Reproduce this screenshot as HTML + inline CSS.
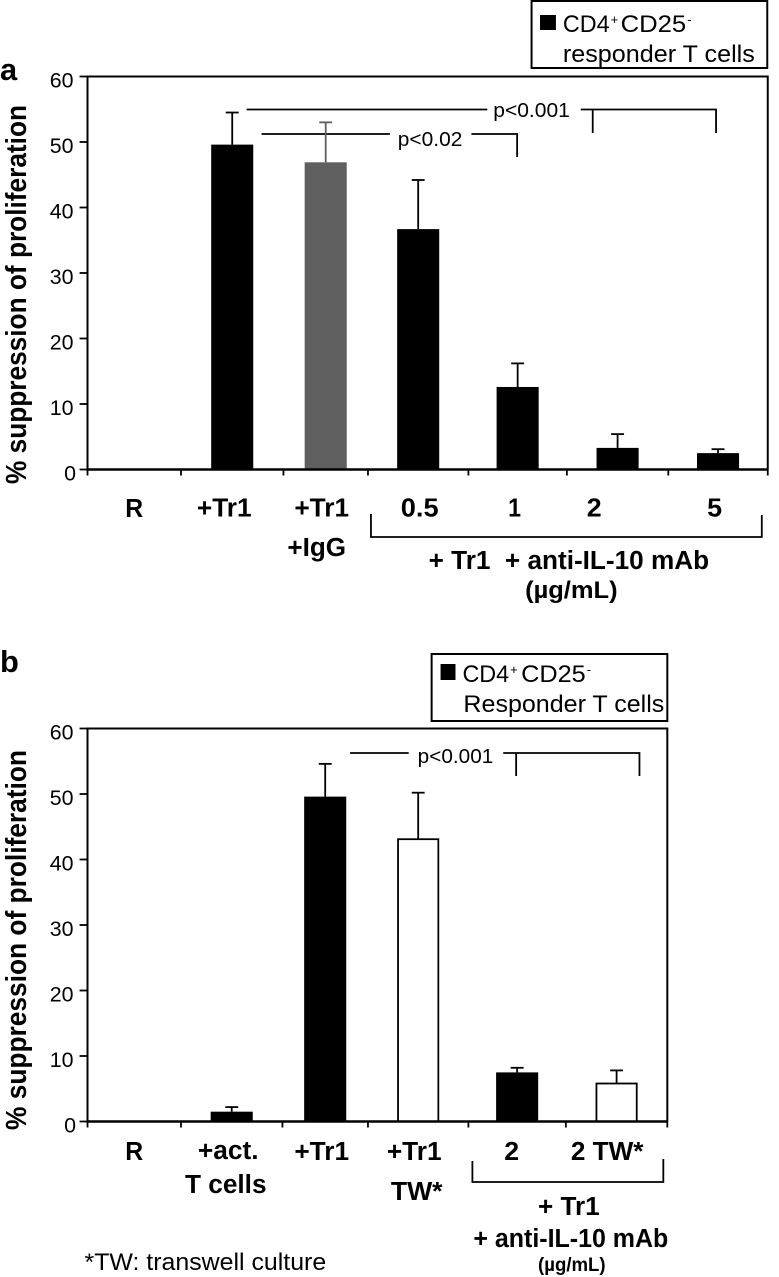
<!DOCTYPE html>
<html>
<head>
<meta charset="utf-8">
<title>Suppression of proliferation</title>
<style>
html,body{margin:0;padding:0;background:#fff;}
svg{display:block;}
text{font-family:"Liberation Sans",sans-serif;fill:#000;}
.b{font-weight:bold;font-size:26px;}
.l{font-size:24px;}
.p{font-size:20px;}
.t{font-size:21.5px;}
.ttl{font-weight:bold;font-size:28.5px;}
.pan{font-weight:bold;font-size:31px;}
.br{fill:none;stroke:#000;stroke-width:1.8;}
</style>
</head>
<body>
<svg id="fig" width="779" height="1277" viewBox="0 0 779 1277" xmlns="http://www.w3.org/2000/svg">
  <rect x="0" y="0" width="779" height="1277" fill="#fff"/>
  <g transform="scale(0.9945,1)">

  <!-- Panel a static -->
  <text class="pan" x="0" y="80">a</text>
  <text class="ttl" transform="translate(26,484) rotate(-90)" textLength="379" lengthAdjust="spacingAndGlyphs">% suppression of proliferation</text>

  <g>
    <rect x="534.5" y="1" width="237" height="67" fill="#fff" stroke="#000" stroke-width="2"/>
    <rect x="543" y="15" width="16" height="15" fill="#000"/>
    <text class="l" x="566" y="32" textLength="47" lengthAdjust="spacingAndGlyphs">CD4</text>
    <text x="614" y="24" font-size="13">+</text>
    <text class="l" x="624" y="32" textLength="66" lengthAdjust="spacingAndGlyphs">CD25</text>
    <text x="691" y="24" font-size="13">-</text>
    <text class="l" x="566" y="62" textLength="193" lengthAdjust="spacingAndGlyphs">responder T cells</text>
  </g>

  <g>
    <path class="br" d="M248 109.5H490M584 109.5H720V133M596 109.5V133"/>
    <text class="p" x="496" y="117" textLength="77" lengthAdjust="spacingAndGlyphs">p&lt;0.001</text>
    <path class="br" d="M263 134H392M474 134H520V157"/>
    <text class="p" x="400" y="146" textLength="65" lengthAdjust="spacingAndGlyphs">p&lt;0.02</text>
  </g>

  <g>
    <text class="b" x="126" y="517" textLength="18" lengthAdjust="spacingAndGlyphs">R</text>
    <text class="b" x="198" y="516.5" textLength="55" lengthAdjust="spacingAndGlyphs">+Tr1</text>
    <text class="b" x="296" y="516.5" textLength="55" lengthAdjust="spacingAndGlyphs">+Tr1</text>
    <text class="b" x="289" y="556" textLength="59" lengthAdjust="spacingAndGlyphs">+IgG</text>
    <text class="b" x="403" y="516.5" textLength="38" lengthAdjust="spacingAndGlyphs">0.5</text>
    <text class="b" x="511" y="516.5" textLength="13" lengthAdjust="spacingAndGlyphs">1</text>
    <text class="b" x="590" y="516.5" textLength="15" lengthAdjust="spacingAndGlyphs">2</text>
    <text class="b" x="711" y="516.5" textLength="15" lengthAdjust="spacingAndGlyphs">5</text>
    <path class="br" d="M373 514V537H766V515"/>
    <text class="b" x="431" y="569" textLength="282" lengthAdjust="spacingAndGlyphs" style="white-space:pre">+ Tr1  + anti-IL-10 mAb</text>
    <text class="b" x="528" y="598" style="font-size:24px" textLength="93" lengthAdjust="spacingAndGlyphs">(µg/mL)</text>
  </g>

  <!-- Panel b static -->
  <text class="pan" x="0" y="672">b</text>
  <text class="ttl" transform="translate(26,1130) rotate(-90)" textLength="380" lengthAdjust="spacingAndGlyphs">% suppression of proliferation</text>

  <g>
    <rect x="434" y="654" width="237" height="67" fill="#fff" stroke="#000" stroke-width="2"/>
    <rect x="443" y="664" width="15" height="16" fill="#000"/>
    <text class="l" x="465" y="682" textLength="47" lengthAdjust="spacingAndGlyphs">CD4</text>
    <text x="513" y="674" font-size="13">+</text>
    <text class="l" x="524" y="682" textLength="65" lengthAdjust="spacingAndGlyphs">CD25</text>
    <text x="590" y="674" font-size="13">-</text>
    <text class="l" x="466" y="712" textLength="202" lengthAdjust="spacingAndGlyphs">Responder T cells</text>
  </g>

  <g>
    <path class="br" d="M352 753H411M506 753H643V776M519 753V776"/>
    <text class="p" x="420" y="763" textLength="76" lengthAdjust="spacingAndGlyphs">p&lt;0.001</text>
  </g>

  <g>
    <text class="b" x="126" y="1160" textLength="18" lengthAdjust="spacingAndGlyphs">R</text>
    <text class="b" x="199" y="1159" textLength="61" lengthAdjust="spacingAndGlyphs">+act.</text>
    <text class="b" x="186" y="1193" textLength="82" lengthAdjust="spacingAndGlyphs">T cells</text>
    <text class="b" x="296" y="1160" textLength="55" lengthAdjust="spacingAndGlyphs">+Tr1</text>
    <text class="b" x="389" y="1160" textLength="55" lengthAdjust="spacingAndGlyphs">+Tr1</text>
    <text class="b" x="393" y="1200" textLength="52" lengthAdjust="spacingAndGlyphs">TW*</text>
    <text class="b" x="507" y="1160" textLength="15" lengthAdjust="spacingAndGlyphs">2</text>
    <text class="b" x="574" y="1160" textLength="73" lengthAdjust="spacingAndGlyphs">2 TW*</text>
    <path class="br" d="M475 1161V1182H667V1159"/>
    <text class="b" x="541" y="1215" textLength="62" lengthAdjust="spacingAndGlyphs">+ Tr1</text>
    <text class="b" x="476" y="1247" textLength="196" lengthAdjust="spacingAndGlyphs">+ anti-IL-10 mAb</text>
    <text class="b" x="541" y="1271" style="font-size:19px" textLength="68" lengthAdjust="spacingAndGlyphs">(µg/mL)</text>
  </g>
  <text class="l" x="85" y="1270" textLength="243" lengthAdjust="spacingAndGlyphs">*TW: transwell culture</text>

  <g id="plot-a"></g>
  <g id="plot-b"></g>
  </g>
</svg>

<script>
// Shared axis ticks
const yTickValues = [0, 10, 20, 30, 40, 50, 60];

// Panel a data
const categoriesA = ['R', '+Tr1', '+Tr1 +IgG', '0.5', '1', '2', '5'];
const valuesA = [0, 49.6, 46.9, 36.7, 12.6, 3.3, 2.5];
const errorsA = [0, 4.9, 6.1, 7.5, 3.6, 2.1, 0.6];
const fillsA = ['black', 'black', 'gray', 'black', 'black', 'black', 'black'];

// Panel b data
const categoriesB = ['R', '+act. T cells', '+Tr1', '+Tr1 TW*', '2', '2 TW*'];
const valuesB = [0, 1.5, 49.6, 43.1, 7.5, 5.8];
const errorsB = [0, 0.7, 5.0, 7.1, 0.7, 2.0];
const fillsB = ['black', 'black', 'black', 'white', 'black', 'white'];

const NS = 'http://www.w3.org/2000/svg';

function make(tag, attrs, parent) {
  const el = document.createElementNS(NS, tag);
  for (const k in attrs) el.setAttribute(k, attrs[k]);
  parent.appendChild(el);
  return el;
}

function drawPanel(group, prefix, frame, categories, values, errors, fills) {
  const yScale = v => frame.y0 + (frame.y60 - frame.y0) * v / 60;
  const edges = frame.edges;
  const xCenter = i => (edges[i] + edges[i + 1]) / 2;
  const barW = 42.3;

  // frame
  const box = make('path', {d: 'M' + edges[0] + ' ' + frame.y0 + 'V' + frame.y60 + 'H' + edges[edges.length - 1] + 'V' + frame.y0, fill: 'none', stroke: '#000', 'stroke-width': 2}, group);
  
  

  // y ticks + labels
  yTickValues.forEach(v => {
    const y = yScale(v);
    const tick = make('line', {x1: edges[0] - 8, x2: edges[0], y1: y, y2: y, stroke: '#000', 'stroke-width': 1.8}, group);
    
    
    const label = make('text', {x: v === 0 ? 76.5 : 74, y: y + 11, 'text-anchor': 'end', class: 't'}, group);
    
    
    label.textContent = String(v);
  });

  // bars + error bars
  categories.forEach((c, i) => {
    const cx = xCenter(i);
    const top = yScale(values[i]);
    const errTop = yScale(values[i] + errors[i]);
    const isWhite = fills[i] === 'white';
    const color = fills[i] === 'gray' ? '#5f5f5f' : '#000';
    if (values[i] <= 0) return;
    const err = make('line', {x1: cx, x2: cx, y1: top, y2: errTop, stroke: color, 'stroke-width': 1.8}, group);
    
    
    const cap = make('line', {x1: cx - 6.5, x2: cx + 6.5, y1: errTop, y2: errTop, stroke: color, 'stroke-width': 1.8}, group);
    
    
    const inset = isWhite ? 0.9 : 0;
    const bar = make('rect', {
      x: cx - barW / 2 + inset,
      y: top,
      width: barW - 2 * inset,
      height: frame.y0 - top,
      fill: isWhite ? '#fff' : color,
      stroke: isWhite ? '#000' : 'none',
      'stroke-width': isWhite ? 1.8 : 0
    }, group);
    
    
    const title = make('title', {}, bar);
    title.textContent = c;
  });

  // baseline + x ticks
  const base = make('line', {x1: edges[0], x2: edges[edges.length - 1], y1: frame.y0, y2: frame.y0, stroke: '#000', 'stroke-width': 2.4}, group);
  
  
  edges.forEach(x => {
    const t = make('line', {x1: x, x2: x, y1: frame.y0, y2: frame.y0 + 6, stroke: '#000', 'stroke-width': 1.8}, group);
    
    
  });
}

drawPanel(document.getElementById('plot-a'), 'panel-a',
  {y0: 469.5, y60: 76.5, edges: [88, 182, 285, 370, 471, 570, 672, 772]},
  categoriesA, valuesA, errorsA, fillsA);
drawPanel(document.getElementById('plot-b'), 'panel-b',
  {y0: 1121.5, y60: 728.5, edges: [88, 182, 284, 370, 471, 569, 671]},
  categoriesB, valuesB, errorsB, fillsB);
</script>
</body>
</html>
